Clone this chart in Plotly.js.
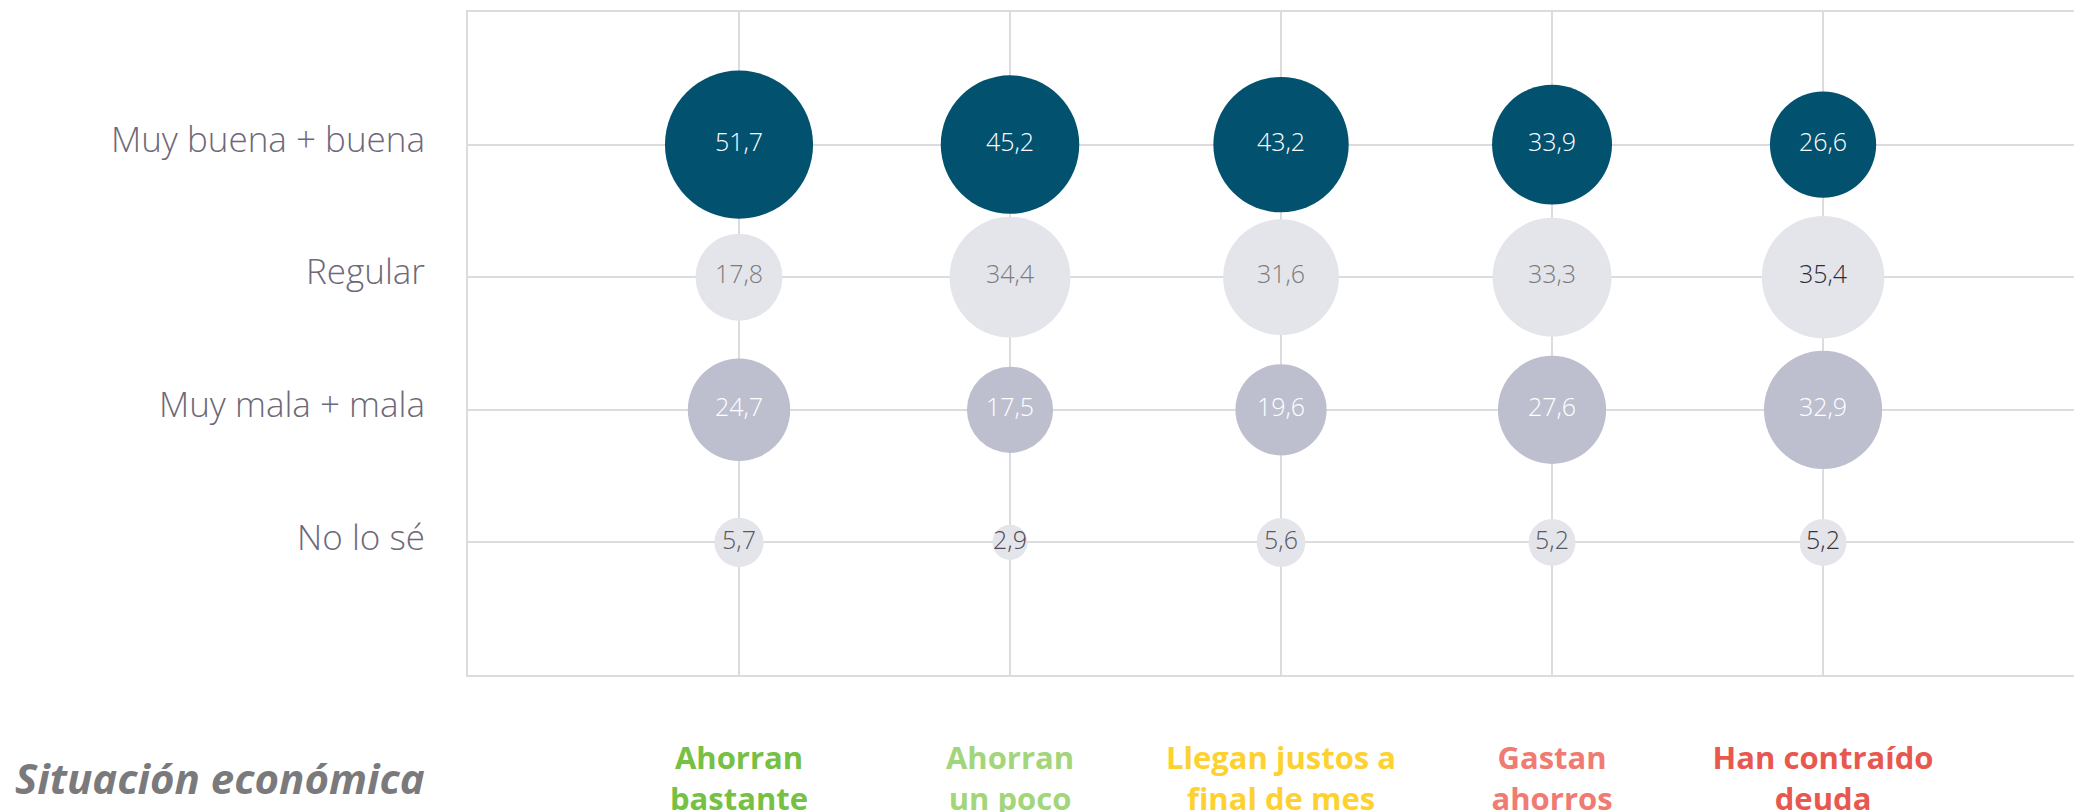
<!DOCTYPE html>
<html>
<head>
<meta charset="utf-8">
<script src="https://cdn.plot.ly/plotly-3.0.1.min.js"></script>
<style>html,body{margin:0;padding:0;background:#fff;}#chart{width:2074px;height:812px;}</style>
</head>
<body>
<div id="chart"></div>
<script>
// Data
const groups = ["Ahorran bastante", "Ahorran un poco", "Llegan justos a final de mes", "Gastan ahorros", "Han contraído deuda"];
const groupLines = [["Ahorran", "bastante"], ["Ahorran", "un poco"], ["Llegan justos a", "final de mes"], ["Gastan", "ahorros"], ["Han contraído", "deuda"]];
const situations = ["Muy buena + buena", "Regular", "Muy mala + mala", "No lo sé"];
const muyBuena = [51.7, 45.2, 43.2, 33.9, 26.6];
const regular = [17.8, 34.4, 31.6, 33.3, 35.4];
const muyMala = [24.7, 17.5, 19.6, 27.6, 32.9];
const noLoSe = [5.7, 2.9, 5.6, 5.2, 5.2];
const axisLabel = "Situación económica";

// Styles
const groupColors = ["#76c043", "#a3d57b", "#fdd230", "#ef7b73", "#e8584f"];
const rowStyles = [
  {fill: "#02516f", text: ["#ffffff","#ffffff","#ffffff","#ffffff","#ffffff"]},
  {fill: "#e4e5ea", text: ["#7b7b80","#7b7b80","#7b7b80","#7b7b80","#2d2d35"]},
  {fill: "#bdbfcf", text: ["#ffffff","#ffffff","#ffffff","#ffffff","#ffffff"]},
  {fill: "#e4e5ea", text: ["#58585f","#4e4956","#58585f","#58585f","#333338"]}
];
const series = [muyBuena, regular, muyMala, noLoSe];
const fmt = v => v.toFixed(1).replace('.', ',');

const traces = series.map((vals, i) => ({
  type: 'scatter',
  mode: 'markers+text',
  x: groups,
  y: groups.map(() => situations[i]),
  text: vals.map(fmt),
  textposition: 'middle center',
  textfont: {family: 'Open Sans, sans-serif', size: 25, color: rowStyles[i].text, weight: 300},
  marker: {size: vals, sizemode: 'area', sizeref: 2/(20.6*20.6), color: rowStyles[i].fill, line: {width: 0}, opacity: 1},
  hoverinfo: 'skip',
  cliponaxis: false,
  showlegend: false
}));

const tickText = groupLines.map((lines, i) =>
  lines.map(l => '<span style="color:' + groupColors[i] + '">' + l + '</span>').join('<br>'));

const grid = '#dcdcdf';
const layout = {
  width: 2074, height: 812,
  margin: {l: 468, r: 0, t: 12, b: 137},
  paper_bgcolor: '#ffffff', plot_bgcolor: '#ffffff',
  font: {family: 'Open Sans, sans-serif'},
  xaxis: {
    type: 'category', categoryarray: groups, range: [-1, 4.926],
    tickmode: 'array', tickvals: groups, ticktext: tickText,
    tickfont: {family: 'Open Sans, sans-serif', size: 31, weight: 700},
    ticklabelstandoff: 55,
    showgrid: true, gridcolor: grid, gridwidth: 2,
    showline: true, linecolor: grid, linewidth: 2, mirror: true,
    zeroline: false, ticks: ''
  },
  yaxis: {
    type: 'category', categoryarray: situations, range: [4, -1],
    tickfont: {family: 'Open Sans, sans-serif', size: 35, color: '#6e6878', weight: 300},
    ticklabelstandoff: 34,
    ticklabelshift: 5,
    showgrid: true, gridcolor: grid, gridwidth: 2,
    showline: true, linecolor: grid, linewidth: 2, mirror: true,
    zeroline: false, ticks: ''
  },
  annotations: [{
    xref: 'paper', yref: 'paper', x: -0.2833, y: -0.155,
    xanchor: 'left', yanchor: 'middle', showarrow: false,
    text: '<b><i>' + axisLabel + '</i></b>',
    font: {family: 'Open Sans, sans-serif', size: 42, color: '#7a7a7c'}
  }]
};

Plotly.newPlot('chart', traces, layout, {staticPlot: true, displayModeBar: false});
</script>
</body>
</html>
